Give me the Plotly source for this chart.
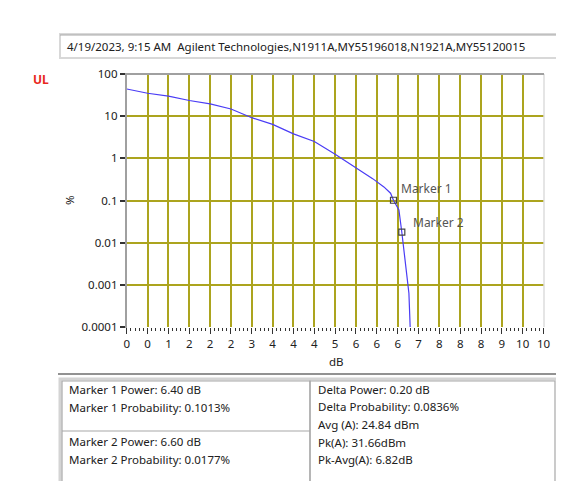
import math
import plotly.graph_objects as go

# CCDF curve (power above average in dB, probability in %)
power_db = [0, 0.5, 1.0, 1.5, 2.0, 2.5, 3.0, 3.5, 4.0, 4.5, 5.0, 5.5, 5.9, 6.17,
            6.33, 6.40, 6.53, 6.60, 6.70, 6.77, 6.80]
prob_pct = [44, 35, 30, 23.5, 19.5, 14.8, 9.2, 6.4, 3.8, 2.5, 1.25, 0.6, 0.33, 0.21,
            0.149, 0.1013, 0.06, 0.0177, 0.0027, 0.00063, 0.0001]

marker_names = ["Marker 1", "Marker 2"]
marker_db = [6.40, 6.60]
marker_pct = [0.1013, 0.0177]

x_tickvals = [0, 0.5, 1, 1.5, 2, 2.5, 3, 3.5, 4, 4.5, 5, 5.5, 6, 6.5, 7, 7.5, 8, 8.5, 9, 9.5, 10]
x_ticktext = ["0", "0", "1", "2", "2", "2", "3", "4", "4", "4", "5", "6", "6", "6",
              "7", "8", "8", "8", "9", "10", "10"]
y_tickvals = [100, 10, 1, 0.1, 0.01, 0.001, 0.0001]
y_ticktext = ["100", "10", "1", "0.1", "0.01", "0.001", "0.0001"]

header = "4/19/2023, 9:15 AM  Agilent Technologies,N1911A,MY55196018,N1921A,MY55120015"
left_top = ["Marker 1 Power: 6.40 dB", "Marker 1 Probability: 0.1013%"]
left_bottom = ["Marker 2 Power: 6.60 dB", "Marker 2 Probability: 0.0177%"]
right_lines = ["Delta Power: 0.20 dB", "Delta Probability: 0.0836%", "Avg (A): 24.84 dBm",
               "Pk(A): 31.66dBm", "Pk-Avg(A): 6.82dB"]

# the page body has an 8px margin, so the figure is drawn 8px smaller and offset
OFF = 8
W, H = 564 - OFF, 481 - OFF
FONT = "Noto Sans"
GRID = "#aca41e"
TXT = "#202020"


def px(x):
    return (x - OFF) / W


def py(y):
    return 1 - (y - OFF) / H


fig = go.Figure()
fig.add_trace(go.Scatter(x=power_db, y=prob_pct, mode="lines",
                         line=dict(color="#4a3cf5", width=1.2), hoverinfo="skip"))
fig.add_trace(go.Scatter(x=marker_db, y=marker_pct, mode="markers",
                         marker=dict(symbol="square-open", size=6, color="#444444",
                                     line=dict(width=1.2))))

shapes = []
annotations = []


def line(x0, y0, x1, y1, color, width):
    shapes.append(dict(type="line", xref="paper", yref="paper", x0=px(x0), x1=px(x1),
                       y0=py(y0), y1=py(y1), line=dict(color=color, width=width)))


def label(x, y, text, anchor="left", size=11.5, color=TXT, angle=0):
    annotations.append(dict(xref="paper", yref="paper", x=px(x), y=py(y), text=text,
                            showarrow=False, xanchor=anchor, yanchor="middle", textangle=angle,
                            font=dict(size=size, color=color)))


# header box
shapes.append(dict(type="rect", xref="paper", yref="paper", x0=px(60), x1=px(570), y0=py(58), y1=py(34),
                   fillcolor="white", line=dict(color="#d8d8d8", width=2)))
line(60, 35, 570, 35, "#a8a8a8", 1)
label(65, 46, header)

label(41, 79, "<b>UL</b>", anchor="center", size=12, color="#e8281e")

# plot frame
line(544, 327, 544, 74, "#dcdcdc", 1.5)
line(126, 74, 544, 74, "#a0a0a0", 2)
line(126, 328, 126, 73, "#a0a0a0", 2)

label(336, 361, "dB", anchor="center")
label(70, 200, "%", anchor="center", angle=-90)

# marker labels
for name, xd, yd, dx, dy in zip(marker_names, marker_db, marker_pct, [6, 9], [12, 10]):
    annotations.append(dict(x=xd, y=math.log10(yd), xref="x", yref="y", text=name, showarrow=False,
                            xanchor="left", yanchor="middle", xshift=dx, yshift=dy,
                            font=dict(size=12, color="#555555")))

# bottom table
line(58, 374, 570, 374, "#6e6e6e", 1.5)
shapes.append(dict(type="rect", xref="paper", yref="paper", x0=px(60), x1=px(575), y0=py(490), y1=py(379),
                   fillcolor="white", line=dict(color="#d4d4d4", width=3)))
shapes.append(dict(type="rect", xref="paper", yref="paper", x0=px(62), x1=px(310), y0=py(490), y1=py(381),
                   line=dict(color="#a8a8a8", width=1.2)))
line(62, 431, 310, 431, "#a8a8a8", 1.2)
shapes.append(dict(type="rect", xref="paper", yref="paper", x0=px(310), x1=px(555), y0=py(490), y1=py(381),
                   line=dict(color="#a8a8a8", width=1.2)))

for i, t in enumerate(left_top):
    label(67, 389 + 18 * i, t)
for i, t in enumerate(left_bottom):
    label(67, 441 + 18 * i, t)
for i, t in enumerate(right_lines):
    label(316, 389 + 17.7 * i, t)

fig.update_layout(
    width=W, height=H,
    margin=dict(l=0, r=0, t=0, b=0),
    paper_bgcolor="white", plot_bgcolor="white",
    showlegend=False,
    font=dict(family=FONT, size=11.5, color=TXT),
    shapes=shapes, annotations=annotations,
    xaxis=dict(domain=[px(126.8), px(543.5)], range=[0, 10], tickmode="array",
               tickvals=x_tickvals, ticktext=x_ticktext, showgrid=True, gridcolor=GRID, gridwidth=1.5,
               ticks="outside", ticklen=6, tickwidth=1, tickcolor="#333333", zeroline=False,
               showline=False, automargin=False, anchor="y",
               minor=dict(dtick=0.1, tick0=0, ticks="outside", ticklen=3, tickcolor="#333333",
                          tickwidth=1, showgrid=False)),
    yaxis=dict(domain=[py(327), py(74)], type="log", range=[-4, 2], tickmode="array",
               tickvals=y_tickvals, ticktext=y_ticktext, showgrid=True, gridcolor=GRID, gridwidth=1.5,
               ticks="outside", ticklen=6, tickwidth=1.5, tickcolor="#333333", zeroline=False,
               showline=False, automargin=False, anchor="x"),
)

fig.write_html("out.html")
